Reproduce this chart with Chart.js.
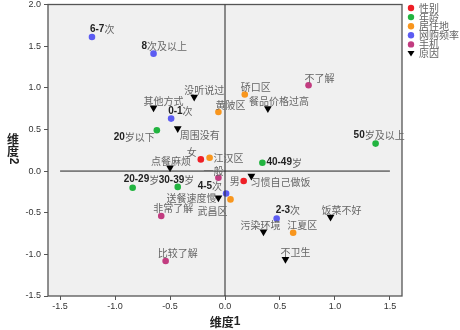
<!DOCTYPE html>
<html>
<head>
<meta charset="utf-8">
<script src="https://cdn.jsdelivr.net/npm/chart.js@4.4.1/dist/chart.umd.min.js"></script>
<style>
  html, body { margin: 0; padding: 0; background: #fff; }
  #wrap { width: 460px; height: 330px; position: relative; }
</style>
</head>
<body>
<div id="wrap"><canvas id="chart"></canvas></div>
<script>
// 对应分析图 — 维度1 x 维度2

// 性别
const genderNames = ['女', '男'];
const genderX     = [-0.22, 0.17];
const genderY     = [0.14, -0.12];

// 年龄
const ageNames = ['20岁以下', '20-29岁', '30-39岁', '40-49岁', '50岁及以上'];
const ageX     = [-0.62, -0.84, -0.43, 0.34, 1.37];
const ageY     = [0.49, -0.20, -0.19, 0.10, 0.33];

// 居住地
const areaNames = ['江汉区', '黄陂区', '硚口区', '武昌区', '江夏区'];
const areaX     = [-0.14, -0.06, 0.18, 0.05, 0.62];
const areaY     = [0.16, 0.71, 0.92, -0.34, -0.74];

// 网购频率
const freqNames = ['6-7次', '8次及以上', '0-1次', '4-5次', '2-3次'];
const freqX     = [-1.21, -0.65, -0.49, 0.01, 0.47];
const freqY     = [1.61, 1.41, 0.63, -0.27, -0.57];

// 手机
const phoneNames = ['不了解', '一般', '非常了解', '比较了解'];
const phoneX     = [0.76, -0.06, -0.58, -0.54];
const phoneY     = [1.03, -0.08, -0.54, -1.08];

// 原因
const reasonNames = ['没听说过', '其他方式', '周围没有', '餐品价格过高', '点餐麻烦',
                     '习惯自己做饭', '送餐速度慢', '污染环境', '饭菜不好', '不卫生'];
const reasonX     = [-0.28, -0.65, -0.43, 0.39, -0.50, 0.24, -0.06, 0.35, 0.96, 0.55];
const reasonY     = [0.89, 0.76, 0.51, 0.75, 0.04, -0.06, -0.32, -0.73, -0.55, -1.06];

// 参考线
const refH = [[-1.5, 0], [1.5, 0]];
const refV = [[0, -1.5], [0, 2.0]];

// axis ticks
const xTickVals = [-1.5, -1.0, -0.5, 0.0, 0.5, 1.0, 1.5];
const yTickVals = [-1.5, -1.0, -0.5, 0.0, 0.5, 1.0, 1.5, 2.0];

// label placement (pixel offsets: dx, dy, align) — layout only
const genderPos = [[-4, -7, 'r'], [-4, 0, 'r']];
const agePos    = [[-2, 7, 'r'], [-9, -8], [-19, -7], [4, 0], [-22, -8]];
const areaPos   = [[4, 0], [-3, -7], [-4, -7], [-3, 12, 'r'], [-6, -7]];
const freqPos   = [[-2, -8], [-12, -7], [-3, -7], [-4, -7, 'r'], [-1, -8]];
const phonePos  = [[-4, -7], [-15, -7], [-8, -8], [-8, -8]];
const reasonPos = [[-10, -7], [-10, -7], [2, 7], [-19, -7], [-19, -7],
                   [-1, 6], [-2, 0, 'r'], [-23, -7], [-9, -7], [-5, -7]];

const pts = (xs, ys) => xs.map((x, i) => ({ x, y: ys[i] }));
const CJK = '"Noto Sans CJK SC", sans-serif';
const LAT = '"Liberation Sans", Arial, sans-serif';

function group(label, names, xs, ys, pos, color, style) {
  return {
    label,
    data: pts(xs, ys),
    names,
    pos,
    backgroundColor: color,
    borderColor: color,
    borderWidth: 0,
    pointStyle: style || 'circle',
    rotation: style === 'triangle' ? 180 : 0,
    pointRadius: style === 'triangle' ? 4.5 : 3.3,
    pointHoverRadius: style === 'triangle' ? 4.5 : 3.3,
  };
}

function refLine(arr) {
  return {
    label: '_ref',
    data: arr.map(p => ({ x: p[0], y: p[1] })),
    showLine: true,
    borderColor: '#222',
    borderWidth: 1,
    pointRadius: 0,
    pointHoverRadius: 0,
    fill: false,
  };
}

// split label into latin / CJK runs
function runs(text) {
  const out = [];
  for (const ch of text) {
    const lat = ch.charCodeAt(0) < 128;
    if (out.length && out[out.length - 1].lat === lat) out[out.length - 1].t += ch;
    else out.push({ t: ch, lat });
  }
  return out;
}
function runFont(r, size, bold) {
  return (r.lat || bold ? 'bold ' : '') + size + 'px ' + (r.lat ? LAT : CJK);
}

// draw a mixed latin/CJK string, aligned l / c / r at x
function drawRuns(ctx, text, x, y, align, size, latColor, cjkColor, bold) {
  const rs = runs(text);
  let w = 0;
  rs.forEach(r => { ctx.font = runFont(r, size, bold); r.w = ctx.measureText(r.t).width; w += r.w; });
  x -= align === 'r' ? w : align === 'c' ? w / 2 : 0;
  ctx.textAlign = 'left';
  rs.forEach(r => {
    ctx.font = runFont(r, size, bold);
    ctx.fillStyle = r.lat ? latColor : cjkColor;
    ctx.fillText(r.t, x, y);
    x += r.w;
  });
}

const plotBg = {
  id: 'plotBg',
  beforeDatasetsDraw(chart) {
    const { ctx, chartArea: a } = chart;
    ctx.save();
    ctx.fillStyle = '#f0f0f0';
    ctx.fillRect(a.left, a.top, a.right - a.left, a.bottom - a.top);
    ctx.strokeStyle = '#555';
    ctx.lineWidth = 1.3;
    ctx.strokeRect(a.left, a.top, a.right - a.left, a.bottom - a.top);
    ctx.restore();
  },
};

const pointLabels = {
  id: 'pointLabels',
  afterDatasetsDraw(chart) {
    const ctx = chart.ctx;
    ctx.save();
    ctx.textBaseline = 'middle';
    chart.data.datasets.forEach((ds, di) => {
      if (!ds.names) return;
      const meta = chart.getDatasetMeta(di);
      meta.data.forEach((el, i) => {
        const [dx, dy, al] = ds.pos[i];
        drawRuns(ctx, ds.names[i], el.x + dx, el.y + dy, al, 10, '#222', '#666');
      });
    });
    ctx.restore();
  },
};

const sideLegend = {
  id: 'sideLegend',
  afterDraw(chart) {
    const ctx = chart.ctx;
    ctx.save();
    let y = 8;
    chart.data.datasets.filter(d => d.names).forEach(ds => {
      ctx.fillStyle = ds.backgroundColor;
      ctx.beginPath();
      if (ds.pointStyle === 'triangle') {
        ctx.moveTo(407.5, y - 2.5); ctx.lineTo(414.5, y - 2.5); ctx.lineTo(411, y + 3);
      } else {
        ctx.arc(411, y, 3.2, 0, Math.PI * 2);
      }
      ctx.fill();
      ctx.font = '10px ' + CJK;
      ctx.fillStyle = '#666';
      ctx.textBaseline = 'middle';
      ctx.fillText(ds.label, 419, y);
      y += 9.1;
    });
    ctx.restore();
  },
};

const axisTitles = {
  id: 'axisTitles',
  afterDraw(chart) {
    const ctx = chart.ctx;
    ctx.save();
    ctx.textBaseline = 'middle';
    // 维度1
    drawRuns(ctx, '维度1', 225, 322, 'c', 12, '#222', '#222', true);
    // 维度2 — vertical
    ctx.fillStyle = '#222';
    ctx.textAlign = 'center';
    ctx.font = 'bold 12px ' + CJK;
    ctx.fillText('维', 13, 139);
    ctx.fillText('度', 13, 151);
    ctx.translate(13, 161);
    ctx.rotate(Math.PI / 2);
    ctx.font = 'bold 12px ' + LAT;
    ctx.fillText('2', 0, 0);
    ctx.restore();
  },
};

new Chart(document.getElementById('chart'), {
  type: 'scatter',
  data: {
    datasets: [
      refLine(refH),
      refLine(refV),
      group('性别',     genderNames, genderX, genderY, genderPos, '#ee1f26'),
      group('年龄',     ageNames,    ageX,    ageY,    agePos,    '#22b440'),
      group('居住地',   areaNames,   areaX,   areaY,   areaPos,   '#f8961e'),
      group('网购频率', freqNames,   freqX,   freqY,   freqPos,   '#5c5cf2'),
      group('手机',     phoneNames,  phoneX,  phoneY,  phonePos,  '#c23c80'),
      group('原因',     reasonNames, reasonX, reasonY, reasonPos, '#000000', 'triangle'),
    ],
  },
  options: {
    responsive: true,
    maintainAspectRatio: false,
    animation: false,
    layout: { padding: { top: 4, right: 58, left: 0, bottom: 0 } },
    plugins: {
      legend: { display: false },
      tooltip: { enabled: false },
    },
    scales: {
      x: {
        type: 'linear',
        min: -1.61,
        max: 1.61,
        afterBuildTicks: s => { s.ticks = xTickVals.map(v => ({ value: v })); },
        afterFit: s => { s.height = 34; s.paddingLeft = 0; s.paddingRight = 0; },
        ticks: {
          color: '#333',
          padding: 1,
          font: { size: 9, family: LAT },
          callback: v => Number(v).toFixed(1),
        },
        grid: { drawOnChartArea: false, drawTicks: true, tickLength: 4, color: '#555' },
        border: { display: false },
      },
      y: {
        type: 'linear',
        min: -1.5,
        max: 2.0,
        afterBuildTicks: s => { s.ticks = yTickVals.map(v => ({ value: v })); },
        afterFit: s => { s.width = 48; s.paddingTop = 0; s.paddingBottom = 0; },
        ticks: {
          color: '#333',
          padding: 3,
          font: { size: 9, family: LAT },
          callback: v => Number(v).toFixed(1),
        },
        grid: { drawOnChartArea: false, drawTicks: true, tickLength: 4, color: '#555' },
        border: { display: false },
      },
    },
  },
  plugins: [plotBg, pointLabels, sideLegend, axisTitles],
});
</script>
</body>
</html>
